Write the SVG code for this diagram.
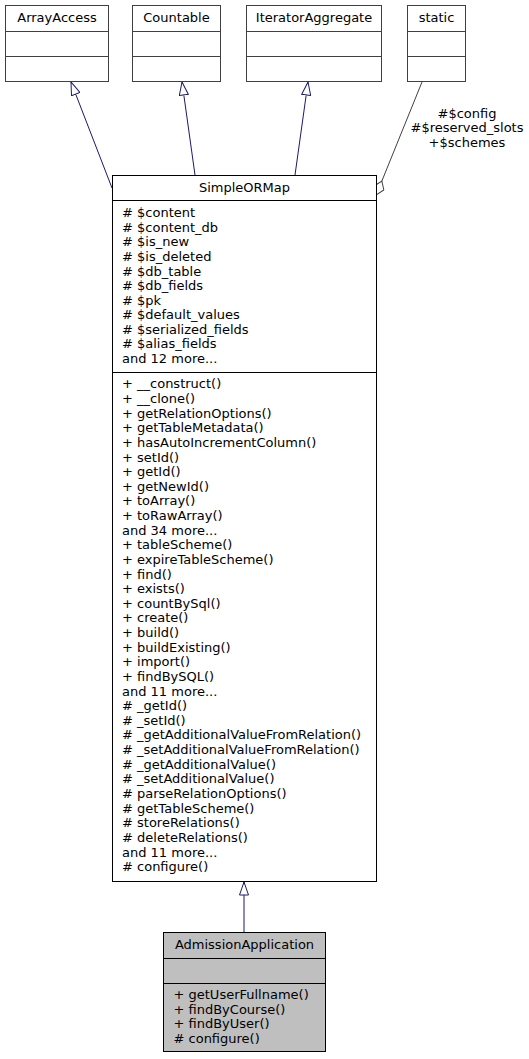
<svg xmlns="http://www.w3.org/2000/svg" width="529" height="1059" viewBox="0 0 529 1059">
<style>
text{font-family:"DejaVu Sans","Liberation Sans",sans-serif;font-size:13px;fill:#000}
.c{text-anchor:middle}
.box{fill:#fff;stroke:#404040;stroke-width:1}
.main{fill:#fff;stroke:#000;stroke-width:1}
.sel{fill:#bfbfbf;stroke:#000;stroke-width:1}
.div{stroke:#000;stroke-width:1}
.gdiv{stroke:#404040;stroke-width:1}
.inh{fill:none;stroke:#191970;stroke-width:1}
.use{fill:none;stroke:#404040;stroke-width:1}
</style>
<defs>
<marker id="tri" viewBox="0 0 14 10" refX="13.5" refY="5" markerWidth="14" markerHeight="10" markerUnits="userSpaceOnUse" orient="auto">
<path d="M0.5,0.5 L13.5,5 L0.5,9.5 Z" fill="#fff" stroke="#191970" stroke-width="1"/>
</marker>
<marker id="dia" viewBox="0 0 16 12" refX="15.5" refY="6" markerWidth="16" markerHeight="12" markerUnits="userSpaceOnUse" orient="auto">
<path d="M0.5,6 L8,0.8 L15.5,6 L8,11.2 Z" fill="#fff" stroke="#404040" stroke-width="1"/>
</marker>
</defs>
<g id="connectors">
<line class="inh" x1="112" y1="188" x2="71" y2="82" marker-end="url(#tri)"/>
<line class="inh" x1="195" y1="175" x2="182" y2="82" marker-end="url(#tri)"/>
<line class="inh" x1="295" y1="175" x2="308" y2="82" marker-end="url(#tri)"/>
<line class="inh" x1="244" y1="932" x2="244" y2="882" marker-end="url(#tri)"/>
<line class="use" x1="422" y1="82" x2="376.2" y2="195" marker-end="url(#dia)"/>
<text class="c" x="467" y="117.5">#$config</text>
<text class="c" x="467" y="132">#$reserved_slots</text>
<text class="c" x="467" y="146.5">+$schemes</text>
</g>
<g id="ArrayAccess">
<rect class="box" x="5.5" y="5.5" width="103" height="76"/>
<line class="gdiv" x1="5.5" y1="31.5" x2="108.5" y2="31.5"/>
<line class="gdiv" x1="5.5" y1="56.5" x2="108.5" y2="56.5"/>
<text class="c" x="57" y="22">ArrayAccess</text>
</g>
<g id="Countable">
<rect class="box" x="132.5" y="5.5" width="88" height="76"/>
<line class="gdiv" x1="132.5" y1="31.5" x2="220.5" y2="31.5"/>
<line class="gdiv" x1="132.5" y1="56.5" x2="220.5" y2="56.5"/>
<text class="c" x="176.5" y="22">Countable</text>
</g>
<g id="IteratorAggregate">
<rect class="box" x="246.5" y="5.5" width="135" height="76"/>
<line class="gdiv" x1="246.5" y1="31.5" x2="381.5" y2="31.5"/>
<line class="gdiv" x1="246.5" y1="56.5" x2="381.5" y2="56.5"/>
<text class="c" x="314" y="22">IteratorAggregate</text>
</g>
<g id="static">
<rect class="box" x="407.5" y="5.5" width="58" height="76"/>
<line class="gdiv" x1="407.5" y1="31.5" x2="465.5" y2="31.5"/>
<line class="gdiv" x1="407.5" y1="56.5" x2="465.5" y2="56.5"/>
<text class="c" x="436.5" y="22">static</text>
</g>
<g id="SimpleORMap">
<rect class="main" x="112.5" y="175.5" width="264" height="706"/>
<line class="div" x1="112.5" y1="200.5" x2="376.5" y2="200.5"/>
<line class="div" x1="112.5" y1="372.5" x2="376.5" y2="372.5"/>
<text class="c" x="244.5" y="192">SimpleORMap</text>
<text x="122" y="217.3"># $content</text>
<text x="122" y="231.8"># $content_db</text>
<text x="122" y="246.4"># $is_new</text>
<text x="122" y="260.9"># $is_deleted</text>
<text x="122" y="275.5"># $db_table</text>
<text x="122" y="290"># $db_fields</text>
<text x="122" y="304.5"># $pk</text>
<text x="122" y="319.1"># $default_values</text>
<text x="122" y="333.6"># $serialized_fields</text>
<text x="122" y="348.2"># $alias_fields</text>
<text x="122" y="362.7">and 12 more...</text>
<text x="122" y="388.3">+ __construct()</text>
<text x="122" y="402.9">+ __clone()</text>
<text x="122" y="417.6">+ getRelationOptions()</text>
<text x="122" y="432.2">+ getTableMetadata()</text>
<text x="122" y="446.8">+ hasAutoIncrementColumn()</text>
<text x="122" y="461.5">+ setId()</text>
<text x="122" y="476.1">+ getId()</text>
<text x="122" y="490.7">+ getNewId()</text>
<text x="122" y="505.3">+ toArray()</text>
<text x="122" y="520">+ toRawArray()</text>
<text x="122" y="534.6">and 34 more...</text>
<text x="122" y="549.2">+ tableScheme()</text>
<text x="122" y="563.9">+ expireTableScheme()</text>
<text x="122" y="578.5">+ find()</text>
<text x="122" y="593.1">+ exists()</text>
<text x="122" y="607.8">+ countBySql()</text>
<text x="122" y="622.4">+ create()</text>
<text x="122" y="637">+ build()</text>
<text x="122" y="651.6">+ buildExisting()</text>
<text x="122" y="666.3">+ import()</text>
<text x="122" y="680.9">+ findBySQL()</text>
<text x="122" y="695.5">and 11 more...</text>
<text x="122" y="710.2"># _getId()</text>
<text x="122" y="724.8"># _setId()</text>
<text x="122" y="739.4"># _getAdditionalValueFromRelation()</text>
<text x="122" y="754.1"># _setAdditionalValueFromRelation()</text>
<text x="122" y="768.7"># _getAdditionalValue()</text>
<text x="122" y="783.3"># _setAdditionalValue()</text>
<text x="122" y="797.9"># parseRelationOptions()</text>
<text x="122" y="812.6"># getTableScheme()</text>
<text x="122" y="827.2"># storeRelations()</text>
<text x="122" y="841.8"># deleteRelations()</text>
<text x="122" y="856.5">and 11 more...</text>
<text x="122" y="871.1"># configure()</text>
</g>
<g id="AdmissionApplication">
<rect class="sel" x="163.5" y="932.5" width="162" height="119"/>
<line class="div" x1="163.5" y1="958.5" x2="325.5" y2="958.5"/>
<line class="div" x1="163.5" y1="983.5" x2="325.5" y2="983.5"/>
<text class="c" x="244.5" y="949.3">AdmissionApplication</text>
<text x="173.5" y="999.3">+ getUserFullname()</text>
<text x="173.5" y="1013.8">+ findByCourse()</text>
<text x="173.5" y="1028.2">+ findByUser()</text>
<text x="173.5" y="1042.7"># configure()</text>
</g>
</svg>
